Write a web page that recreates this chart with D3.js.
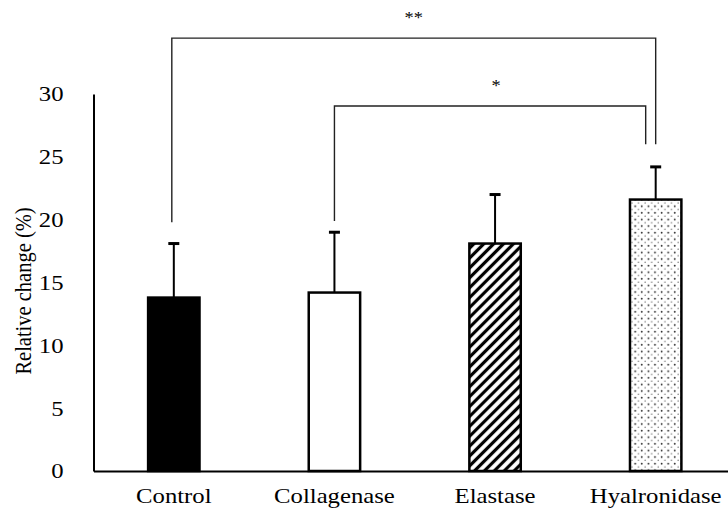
<!DOCTYPE html>
<html>
<head>
<meta charset="utf-8">
<script src="https://cdn.jsdelivr.net/npm/d3@7"></script>
<style>
  body { margin: 0; background: #fff; }
  svg { display: block; }
  svg text { font-family: "Liberation Serif", "Times New Roman", Tinos, "DejaVu Serif", serif; fill: #000; }
</style>
</head>
<body>
<div id="chart"></div>
<script>
// data
const categories = ["Control", "Collagenase", "Elastase", "Hyalronidase"];
const means = [13.8, 14.2, 18.1, 21.6];
const errors = [4.3, 4.8, 3.9, 2.6];
const yTicks = [0, 5, 10, 15, 20, 25, 30];
// significance brackets: label, from, to, level, left foot, right foot (all in % units)
const bracketLabels = ["**", "*"];
const bracketFrom = ["Control", "Collagenase"];
const bracketTo = ["Hyalronidase", "Hyalronidase"];
const bracketLevel = [34.45, 29.05];
const bracketFootL = [19.8, 19.9];
const bracketFootR = [26.0, 26.0];

const width = 728, height = 515;
const fills = ["#000", "#fff", "url(#hatch)", "url(#dots)"];
const sx = 1.15; // horizontal text stretch of the original image

let svg = d3.select("#chart")
            .append("svg")
            .attr("width", width)
            .attr("height", height);

//patterns
let defs = svg.append("defs");
defs.append("pattern")
    .attr("id", "hatch")
    .attr("patternUnits", "userSpaceOnUse")
    .attr("width", 7).attr("height", 7)
    .attr("patternTransform", "rotate(45)")
    .append("line")
    .attr("x1", 3.5).attr("y1", 0)
    .attr("x2", 3.5).attr("y2", 7)
    .style("stroke", "#000")
    .style("stroke-width", 3.2);
let dots = defs.append("pattern")
    .attr("id", "dots")
    .attr("patternUnits", "userSpaceOnUse")
    .attr("width", 6.6).attr("height", 6.6);
dots.append("rect").attr("width", 6.6).attr("height", 6.6).style("fill", "#fff");
dots.append("circle").attr("cx", 1.6).attr("cy", 1.6).attr("r", 0.9).style("fill", "#222");
dots.append("circle").attr("cx", 4.9).attr("cy", 4.9).attr("r", 0.7).style("fill", "#666");

//scales
let x = d3.scaleBand()
          .domain(categories)
          .range([93.5, 736])
          .paddingInner(0.68)
          .paddingOuter(0.34);
let y = d3.scaleLinear()
          .domain([0, 30])
          .range([471, 94]);

//bars
svg.append("g")
   .selectAll("rect")
   .data(categories)
   .enter()
   .append("rect")
   .attr("x", d => x(d))
   .attr("y", (d, i) => y(means[i]))
   .attr("width", x.bandwidth())
   .attr("height", (d, i) => y(0) - y(means[i]))
   .style("fill", (d, i) => fills[i])
   .style("stroke", "#000")
   .style("stroke-width", 2.5);

//error bars (upper only)
let err = svg.append("g")
             .selectAll("g")
             .data(categories)
             .enter()
             .append("g")
             .attr("transform", d => `translate(${x(d) + x.bandwidth() / 2},0)`);
err.append("line")
   .attr("y1", (d, i) => y(means[i]))
   .attr("y2", (d, i) => y(means[i] + errors[i]))
   .style("stroke", "#000")
   .style("stroke-width", 2);
err.append("line")
   .attr("x1", -5.5).attr("x2", 5.5)
   .attr("y1", (d, i) => y(means[i] + errors[i]))
   .attr("y2", (d, i) => y(means[i] + errors[i]))
   .style("stroke", "#000")
   .style("stroke-width", 3);

//axes
let yAxis = svg.append("g")
               .attr("transform", "translate(93.5,0)")
               .call(d3.axisLeft(y).tickValues(yTicks).tickSize(0).tickFormat(d3.format("d")));
yAxis.attr("font-family", null);
yAxis.select(".domain").style("stroke", "#000").style("stroke-width", 2);
yAxis.selectAll("text")
     .attr("x", -30 / sx)
     .attr("transform", `scale(${sx},1)`)
     .style("font-size", "21.5px");

let xAxis = svg.append("g")
               .attr("transform", "translate(0,471)")
               .call(d3.axisBottom(x).tickSize(0).tickPadding(17));
xAxis.attr("font-family", null);
xAxis.select(".domain").style("stroke", "#000").style("stroke-width", 2);
xAxis.selectAll("text")
     .attr("transform", `scale(${sx},1)`)
     .style("font-size", "21.5px");

//y label
svg.append("text")
   .attr("transform", `translate(31,291) scale(${sx},1) rotate(-90)`)
   .style("text-anchor", "middle")
   .style("font-size", "20.5px")
   .text("Relative change (%)");

//significance brackets
const legDx = [[-2, 0], [0, -10]];
const labelDx = [0, 6];
bracketLabels.forEach(function(lab, i) {
  let x1 = x(bracketFrom[i]) + x.bandwidth() / 2 + legDx[i][0],
      x2 = x(bracketTo[i]) + x.bandwidth() / 2 + legDx[i][1];
  svg.append("path")
     .attr("d", `M${x1},${y(bracketFootL[i])}V${y(bracketLevel[i])}H${x2}V${y(bracketFootR[i])}`)
     .style("fill", "none")
     .style("stroke", "#222")
     .style("stroke-width", 1.4);
  svg.append("text")
     .attr("transform", `translate(${(x1 + x2) / 2 + labelDx[i]},${y(bracketLevel[i]) - 15}) scale(${sx},1)`)
     .style("text-anchor", "middle")
     .style("font-size", "16px")
     .text(lab);
});
</script>
</body>
</html>
